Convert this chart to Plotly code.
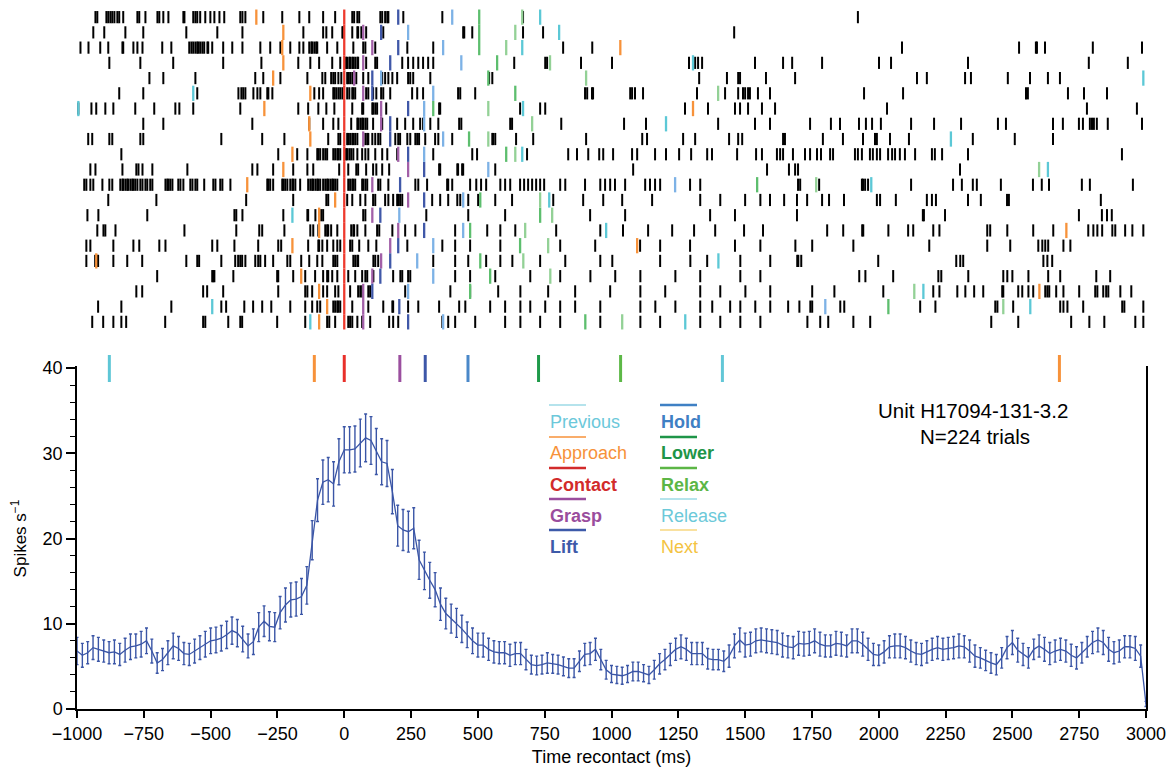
import plotly.graph_objects as go

# ---------------- PSTH data (20 ms bins) ----------------
bin_ms = list(range(-1000, 3001, 20))
rate = [
    6.8, 6.3, 6.6, 7.2, 7.0, 6.8, 6.6, 6.7, 6.4, 6.9,
    7.3, 7.4, 7.6, 8.0, 6.8, 5.4, 5.8, 6.6, 7.4, 7.1,
    6.5, 6.4, 6.8, 7.2, 7.6, 8.0, 8.1, 8.3, 8.7, 9.2,
    8.9, 8.2, 7.4, 7.9, 9.6, 10.3, 9.7, 9.6, 11.3, 12.2,
    12.8, 12.9, 13.2, 14.5, 19.8, 24.5, 26.6, 26.9, 26.4, 29.0,
    30.4, 30.4, 30.5, 31.2, 31.8, 31.5, 30.2, 29.0, 28.8, 25.5,
    21.5, 21.0, 20.8, 21.2, 17.5, 16.2, 15.1, 14.0, 12.3, 11.2,
    10.6, 10.1, 9.4, 8.7, 8.0, 7.5, 7.5, 7.0, 6.7, 6.6,
    6.6, 6.3, 6.5, 6.5, 5.8, 5.2, 5.1, 5.2, 5.4, 5.3,
    5.2, 5.0, 4.8, 4.8, 5.6, 6.4, 6.5, 7.0, 5.8, 4.6,
    4.1, 4.0, 3.9, 4.1, 4.4, 4.4, 4.2, 4.0, 4.6, 5.3,
    5.8, 6.4, 7.0, 7.3, 7.0, 6.5, 6.5, 6.5, 5.9, 5.8,
    5.8, 5.6, 6.2, 7.4, 8.1, 7.5, 7.6, 8.0, 8.1, 8.0,
    7.9, 7.8, 7.5, 7.3, 7.2, 7.7, 7.6, 7.7, 8.0, 7.6,
    7.4, 7.4, 7.7, 7.6, 7.4, 8.0, 8.0, 7.6, 7.0, 6.4,
    6.3, 6.7, 7.3, 7.4, 7.4, 7.2, 6.8, 6.5, 6.4, 6.7,
    7.0, 7.2, 7.0, 7.1, 7.2, 7.4, 7.3, 6.8, 6.2, 6.0,
    5.7, 5.4, 5.2, 6.0, 7.2, 7.8, 6.9, 6.4, 6.0, 7.0,
    7.4, 7.0, 6.5, 6.8, 7.0, 6.8, 6.3, 6.0, 6.6, 7.3,
    7.8, 8.1, 7.8, 7.0, 6.6, 6.8, 7.3, 7.3, 7.1, 6.2,
    0.6,
]
sem = [
    1.6, 1.4, 1.3, 1.4, 1.4, 1.3, 1.3, 1.4, 1.3, 1.4, 1.5, 1.4, 1.5, 1.5,
    1.4, 1.2, 1.3, 1.4, 1.5, 1.4, 1.3, 1.3, 1.4, 1.4, 1.5, 1.5, 1.5, 1.5,
    1.6, 1.6, 1.6, 1.5, 1.4, 1.5, 1.7,
    1.8, 1.7, 1.7, 1.9, 2.0, 2.0, 2.0, 2.1, 2.2,
    2.3, 2.5, 2.6, 2.6, 2.6, 2.7, 2.7, 2.7, 2.7, 2.8, 2.8, 2.8, 2.7, 2.7,
    2.7, 2.6, 2.4, 2.4, 2.4, 2.4, 2.3,
    2.2, 2.1, 2.0, 1.9, 1.8, 1.7, 1.7, 1.6, 1.5, 1.5,
    1.4, 1.4, 1.3, 1.3, 1.3, 1.3, 1.3, 1.3, 1.3, 1.2, 1.1, 1.1, 1.1, 1.2,
    1.1, 1.1, 1.1, 1.1, 1.1, 1.2, 1.3, 1.3, 1.3, 1.2, 1.1,
    1.0, 1.0, 1.0, 1.0, 1.1, 1.1, 1.0, 1.0, 1.1, 1.2,
    1.2, 1.3, 1.3, 1.4, 1.3, 1.3, 1.3, 1.3, 1.2, 1.2,
    1.2, 1.2, 1.3, 1.4, 1.4, 1.4, 1.4, 1.4, 1.4, 1.4,
    1.4, 1.4, 1.4, 1.3, 1.3, 1.4, 1.4, 1.4, 1.4, 1.4,
    1.3, 1.3, 1.4, 1.4, 1.3, 1.4, 1.4, 1.4, 1.3, 1.3,
    1.2, 1.3, 1.3, 1.4, 1.4, 1.3, 1.3, 1.3, 1.3, 1.3,
    1.3, 1.3, 1.3, 1.3, 1.3, 1.4, 1.3, 1.3, 1.3, 1.2,
    1.2, 1.2, 1.2, 1.2, 1.3, 1.4, 1.4, 1.3, 1.2, 1.2,
    1.3, 1.4, 1.3, 1.3, 1.3, 1.3, 1.3, 1.3, 1.2, 1.2,
    1.3, 1.4, 1.4, 1.4, 1.3, 1.3, 1.3, 1.3, 1.4, 1.3,
    0.3,
]

# ---------------- Raster data (spike times in ms, one list per trial) ----------------
trial_spikes = [
    [-931,-924,-890,-883,-875,-868,-860,-849,-842,-827,-774,-767,-744,-699,-692,-677,-658,-602,-598,-565,-557,-550,-539,-520,-501,-486,-467,-449,-389,-381,-370,-303,-232,-168,-131,-79,-34,30,37,49,56,135,142,153,161,165,221,367,669,1922],
    [-939,-898,-819,-752,-591,-475,-381,-153,-79,-67,-45,-7,-4,30,49,52,64,82,146,445,449,479,669,744,1459],
    [-987,-957,-913,-883,-830,-827,-789,-774,-755,-681,-647,-580,-572,-565,-557,-550,-546,-539,-531,-524,-512,-509,-494,-453,-419,-381,-314,-277,-239,-202,-168,-153,-131,-123,-120,-112,-105,-101,-64,-26,34,71,79,116,236,333,819,928,2087,2525,2588,2592,2622,2801,2985],
    [-879,-763,-640,-453,-310,-172,-127,-94,-45,-15,7,11,19,22,30,34,41,49,52,82,116,123,217,239,258,277,295,314,333,636,752,759,886,1002,1290,1313,1324,1339,1537,1642,1676,1788,2001,2046,2334,2786,2932],
    [-729,-677,-557,-333,-303,-239,-138,-82,-71,-49,-41,-34,-22,-11,11,15,22,30,34,45,71,90,142,153,165,180,198,239,247,258,322,542,554,1328,1432,1474,1481,1578,1687,2143,2180,2323,2345,2483,2566,2633,2678],
    [-842,-752,-550,-396,-385,-378,-370,-340,-325,-314,-288,-284,-269,-112,-94,-79,-41,-37,-30,-22,-15,-7,11,19,30,34,41,82,90,108,120,138,146,172,254,273,295,426,434,490,901,909,927,931,1070,1077,1088,1118,1320,1425,1474,1492,1500,1511,1518,1548,1593,1945,2091,2551,2558,2708,2768,2854],
    [-995,-946,-928,-894,-864,-782,-711,-632,-617,-565,-389,-172,-135,-97,-67,-37,30,67,71,105,108,116,123,157,355,359,658,733,752,1275,1361,1462,1481,1511,1563,1612,2031,2779,2966],
    [-752,-677,-344,-131,-79,-41,-22,26,49,52,60,67,71,79,86,108,142,198,228,258,284,295,322,352,430,438,621,628,812,1047,1129,1399,1537,1593,1743,1821,1855,1926,1952,1975,2008,2121,2207,2308,2446,2476,2652,2689,2749,2764,2790,2798,2805,2816,2857,2985],
    [-958,-943,-879,-868,-763,-752,-460,-307,-224,-60,-22,-15,11,15,22,30,34,41,49,79,86,90,105,116,127,135,191,202,209,236,247,266,273,280,303,340,352,404,554,557,565,643,707,905,1115,1133,1268,1313,1440,1474,1489,1642,1649,1791,1866,1941,1986,1993,2042,2113,2352,2509,2652],
    [-834,-247,-176,-138,-101,-97,-90,-79,-71,-64,-41,-34,-26,-22,-15,7,11,19,26,34,49,67,79,90,116,142,161,198,333,479,497,684,838,871,913,954,969,1006,1077,1096,1163,1204,1253,1298,1358,1376,1470,1541,1563,1619,1631,1642,1679,1724,1743,1769,1784,1818,1829,1911,1922,1937,1967,1978,1993,2005,2035,2050,2061,2079,2098,2136,2199,2210,2237,2334,2910],
    [-950,-931,-830,-778,-770,-755,-718,-587,-344,-325,-266,-191,-138,-116,-19,15,45,52,82,108,120,142,168,355,359,423,426,441,445,565,1081,1582,1664,1687,1698,2304],
    [-973,-965,-950,-939,-905,-879,-868,-838,-830,-827,-819,-812,-808,-800,-793,-789,-782,-774,-763,-755,-744,-737,-726,-718,-669,-662,-658,-651,-643,-621,-613,-602,-576,-568,-557,-550,-524,-490,-482,-464,-456,-426,-288,-284,-277,-266,-232,-228,-221,-213,-202,-194,-191,-183,-165,-135,-127,-120,-116,-108,-101,-97,-90,-79,-71,-64,-60,-52,-45,-41,-34,-26,15,22,30,34,41,67,71,79,86,127,135,165,266,277,310,385,389,404,471,494,512,531,584,602,621,658,673,688,703,718,733,748,808,827,901,958,976,995,1013,1051,1126,1144,1163,1182,1294,1332,1698,1706,1777,1937,1941,1949,1960,2121,2278,2311,2352,2367,2457,2577,2610,2637,2760,2790,2951],
    [-883,-703,-367,-191,-67,-60,11,30,60,79,108,116,153,165,183,198,202,209,217,329,359,389,423,434,464,501,565,628,782,894,969,1040,1152,1332,1407,1500,1557,1593,1646,1694,1732,1788,1814,1870,1993,2005,2064,2180,2199,2214,2334,2382,2480,2487,2831],
    [-961,-920,-737,-411,-404,-381,-228,-138,-135,-108,-86,-79,71,79,307,464,602,920,1051,1369,1462,1694,2165,2169,2248,2749,2835,2854,2872],
    [-924,-901,-894,-856,-598,-404,-318,-307,-224,-127,-116,-97,-71,-64,-60,-49,-26,26,34,37,49,79,123,131,180,228,266,415,535,584,640,793,958,1043,1137,1227,1309,1388,1496,1567,1807,1867,1938,1942,2036,2110,2129,2204,2227,2406,2417,2481,2578,2653,2784,2803,2818,2836,2874,2885,2922,2949,2990],
    [-965,-950,-864,-789,-767,-692,-669,-494,-475,-411,-322,-247,-236,-135,-97,-94,-82,-64,-41,-26,-15,22,30,56,90,120,236,367,415,471,584,808,939,1107,1182,1294,1462,1557,1688,1751,1905,2189,2406,2492,2597,2612,2623,2634,2691,2717],
    [-965,-932,-924,-921,-864,-812,-756,-591,-550,-543,-460,-408,-397,-389,-382,-370,-333,-322,-314,-296,-266,-213,-202,-161,-131,-101,-82,-41,-34,-26,34,41,49,52,109,116,127,333,415,464,531,584,629,733,827,958,1003,1182,1295,1358,1482,1594,1695,1699,1710,1998,2290,2305,2316,2616,2631,2649],
    [-700,-494,-490,-486,-415,-251,-247,-191,-146,-109,-79,-64,-60,-45,-26,15,41,67,79,86,109,183,210,217,239,247,415,471,565,696,808,921,1014,1108,1239,1332,1482,1557,1927,1950,2054,2223,2234,2335,2466,2481,2500,2560,2634,2679,2814,2866],
    [-778,-756,-528,-513,-453,-247,-146,-138,-120,-79,-64,-34,-22,22,52,60,67,90,97,228,397,471,576,659,763,864,995,1108,1201,1332,1407,1501,1594,1751,1834,2017,2204,2227,2294,2324,2357,2391,2462,2466,2522,2537,2560,2578,2623,2631,2638,2664,2691,2750,2810,2818,2840,2851,2859,2904,2945],
    [-921,-834,-647,-460,-442,-374,-341,-307,-273,-202,-146,-120,-101,-90,-41,-34,-26,-22,-15,30,90,146,180,183,239,277,355,430,453,546,602,659,696,752,808,864,958,1108,1164,1239,1332,1377,1444,1482,1538,1594,1661,1703,1744,1751,1856,1871,2155,2212,2436,2444,2503,2679,2691,2706,2765,2911,2919,2990],
    [-943,-902,-864,-834,-816,-670,-528,-520,-434,-389,-382,-251,-146,-64,-56,-34,15,22,30,49,67,97,168,183,202,367,389,415,490,602,659,733,808,958,1108,1182,1332,1407,1482,1557,1733,1781,1811,1905,1968,2421,2522,2720,2788,2844,2960,2990],
]

# Behavioural event times per trial (ms, None = not shown)
ev_previous = [None,None,None,None,None,-565,-995,None,None,None,None,None,None,-194,None,None,None,None,None,-494,-127]
ev_approach = [-329,-228,-232,-228,-266,-127,-299,-131,-127,-194,-228,-363,-34,-94,-94,-194,-928,-161,-94,-64,-94]
ev_contact  = [0]*21
ev_grasp    = [None,71,105,71,37,71,138,138,71,202,239,105,239,105,202,172,138,105,71,71,71]
ev_lift     = [202,138,202,172,105,105,239,172,172,239,299,209,299,135,299,202,172,135,105,206,239]
ev_hold     = [404,239,370,438,138,333,299,299,370,299,539,1238,445,206,445,333,273,333,239,1800,370]
ev_lower    = [505,505,505,572,539,640,333,None,467,606,None,1545,509,733,471,658,509,546,471,2036,902]
ev_relax    = [666,640,606,770,905,1399,539,703,539,640,2600,1766,733,778,677,763,670,771,2133,2466,1040]
ev_release  = [733,804,666,1305,2990,None,669,1204,2270,666,2633,1972,767,None,980,None,1400,None,2167,2567,1276]
ev_next     = [None,None,1033,None,None,None,1305,None,None,None,None,None,None,None,2702,1096,None,None,2601,None,None]

# Mean event times (ticks on top of PSTH)
event_labels = ["Previous", "Approach", "Contact", "Grasp", "Lift", "Hold", "Lower", "Relax", "Release", "Next"]
event_mean_ms = [-879, -112, 0, 208, 303, 463, 727, 1034, 1415, 2676]

# ---------------- styling ----------------
FONT = "Liberation Sans, Arial, Helvetica, sans-serif"
BLUE = "#3A55A6"
mean_colors = ["#5EC6D6", "#F7923A", "#E8302A", "#9B4F9F", "#3D57A8", "#4A88C9",
               "#1F9A4A", "#5DB847", "#62C7D7", "#F7923A"]
raster_events = [
    (ev_previous, "#5CC8D6"), (ev_approach, "#F7923A"), (ev_contact, "#EE3A2E"),
    (ev_grasp, "#A260A8"), (ev_lift, "#4058A8"), (ev_hold, "#7DB2E6"),
    (ev_lower, "#5DBE6E"), (ev_relax, "#93D196"), (ev_release, "#5CC8D6"),
    (ev_next, "#F7923A"),
]

fig = go.Figure()

# raster spikes
xs, ys = [], []
for i, spikes in enumerate(trial_spikes):
    r = i + 1
    for t in spikes:
        xs += [t, t, None]
        ys += [r - 0.4, r + 0.4, None]
fig.add_trace(go.Scatter(x=xs, y=ys, mode="lines", yaxis="y2",
                         line=dict(color="black", width=2),
                         hoverinfo="skip", showlegend=False))

# raster events
for times, col in raster_events:
    ex, ey = [], []
    for i, t in enumerate(times):
        if t is None:
            continue
        r = i + 1
        ex += [t, t, None]
        ey += [r - 0.5, r + 0.5, None]
    fig.add_trace(go.Scatter(x=ex, y=ey, mode="lines", yaxis="y2",
                             line=dict(color=col, width=2.3),
                             hoverinfo="skip", showlegend=False))

# PSTH
n = min(len(bin_ms), len(rate), len(sem))
fig.add_trace(go.Scatter(x=bin_ms[:n], y=rate[:n], mode="lines",
                         line=dict(color=BLUE, width=1.3),
                         error_y=dict(type="data", array=sem[:n], color=BLUE,
                                      thickness=1.4, width=1.5),
                         showlegend=False))

# mean event ticks above PSTH
for lab, m, col in zip(event_labels, event_mean_ms, mean_colors):
    fig.add_trace(go.Scatter(x=[m, m], y=[-1, 1], mode="lines", yaxis="y3",
                             line=dict(color=col, width=3),
                             hoverinfo="skip", showlegend=False, name=lab))

W, H = 1175, 770
ML, MR, MT, MB = 77, 29, 0, 61
PW, PH = W - ML - MR, H - MT - MB


def px(xp):
    return (xp - ML) / PW


def py(yp):
    return (H - MB - yp) / PH


# legend (text + line above)
legend_items = [
    ("Previous", "#6CC8DA", False, 1.2, 549, 405, 422),
    ("Approach", "#F7923A", False, 1.6, 549, 437, 453),
    ("Contact", "#D22B2B", True, 2.4, 549, 468, 485),
    ("Grasp", "#9A4D9D", True, 2.4, 549, 499, 516),
    ("Lift", "#3D5AA9", True, 2.4, 549, 530, 547),
    ("Hold", "#3F80C4", True, 2.4, 660, 405, 422),
    ("Lower", "#1E9548", True, 2.4, 660, 437, 453),
    ("Relax", "#5CB646", True, 2.4, 660, 468, 485),
    ("Release", "#6CC9D9", False, 1.2, 660, 499, 516),
    ("Next", "#F4C342", False, 1.2, 660, 530, 547),
]
shapes = []
annotations = []
for text, col, bold, lw, x0, yl, yt in legend_items:
    shapes.append(dict(type="line", xref="paper", yref="paper",
                       x0=px(x0), x1=px(x0 + 37), y0=py(yl), y1=py(yl),
                       line=dict(color=col, width=lw)))
    annotations.append(dict(xref="paper", yref="paper", x=px(x0 - 1), y=py(yt),
                            xanchor="left", yanchor="middle", showarrow=False,
                            text=("<b>%s</b>" % text) if bold else text,
                            font=dict(family=FONT, size=18, color=col)))

annotations.append(dict(xref="paper", yref="paper", x=px(973), y=py(410),
                        xanchor="center", yanchor="middle", showarrow=False,
                        text="Unit H17094-131-3.2",
                        font=dict(family=FONT, size=20.5, color="black")))
annotations.append(dict(xref="paper", yref="paper", x=px(975), y=py(437),
                        xanchor="center", yanchor="middle", showarrow=False,
                        text="N=224 trials",
                        font=dict(family=FONT, size=20.5, color="black")))

fig.update_layout(
    width=W, height=H,
    margin=dict(l=ML, r=MR, t=MT, b=MB),
    paper_bgcolor="white", plot_bgcolor="white",
    font=dict(family=FONT, size=18, color="black"),
    showlegend=False,
    shapes=shapes, annotations=annotations,
    xaxis=dict(range=[-1000, 3000], tickvals=list(range(-1000, 3001, 250)),
               ticks="outside", ticklen=7, tickwidth=1.5, tickcolor="black",
               showline=True, linewidth=2, linecolor="black", mirror=True,
               showgrid=False, zeroline=False, automargin=False,
               tickfont=dict(family=FONT, size=18, color="black"),
               title=dict(text="Time recontact (ms)", standoff=8,
                          font=dict(family=FONT, size=18, color="black")),
               anchor="y"),
    yaxis=dict(domain=[0, py(368)], range=[0, 40], tickvals=[0, 10, 20, 30, 40],
               ticks="outside", ticklen=9, tickwidth=1.5, tickcolor="black",
               minor=dict(dtick=2, tick0=0, ticks="outside", ticklen=5,
                          tickwidth=1.2, tickcolor="black"),
               showline=True, linewidth=1.5, linecolor="black", mirror=True,
               showgrid=False, zeroline=False, automargin=False,
               tickfont=dict(family=FONT, size=18, color="black"),
               title=dict(text="Spikes s<sup>\u22121</sup>", standoff=12,
                          font=dict(family=FONT, size=17, color="black")),
               anchor="x"),
    yaxis2=dict(domain=[py(331), py(8)], range=[21.6, 0.4], visible=False,
                anchor="x", showgrid=False, zeroline=False),
    yaxis3=dict(domain=[py(382), py(355)], range=[-1, 1], visible=False,
                anchor="x", showgrid=False, zeroline=False),
)

fig.write_html("out.html", config={"displayModeBar": False},
               post_script="document.body.style.margin='0px';document.body.style.overflow='hidden';")
